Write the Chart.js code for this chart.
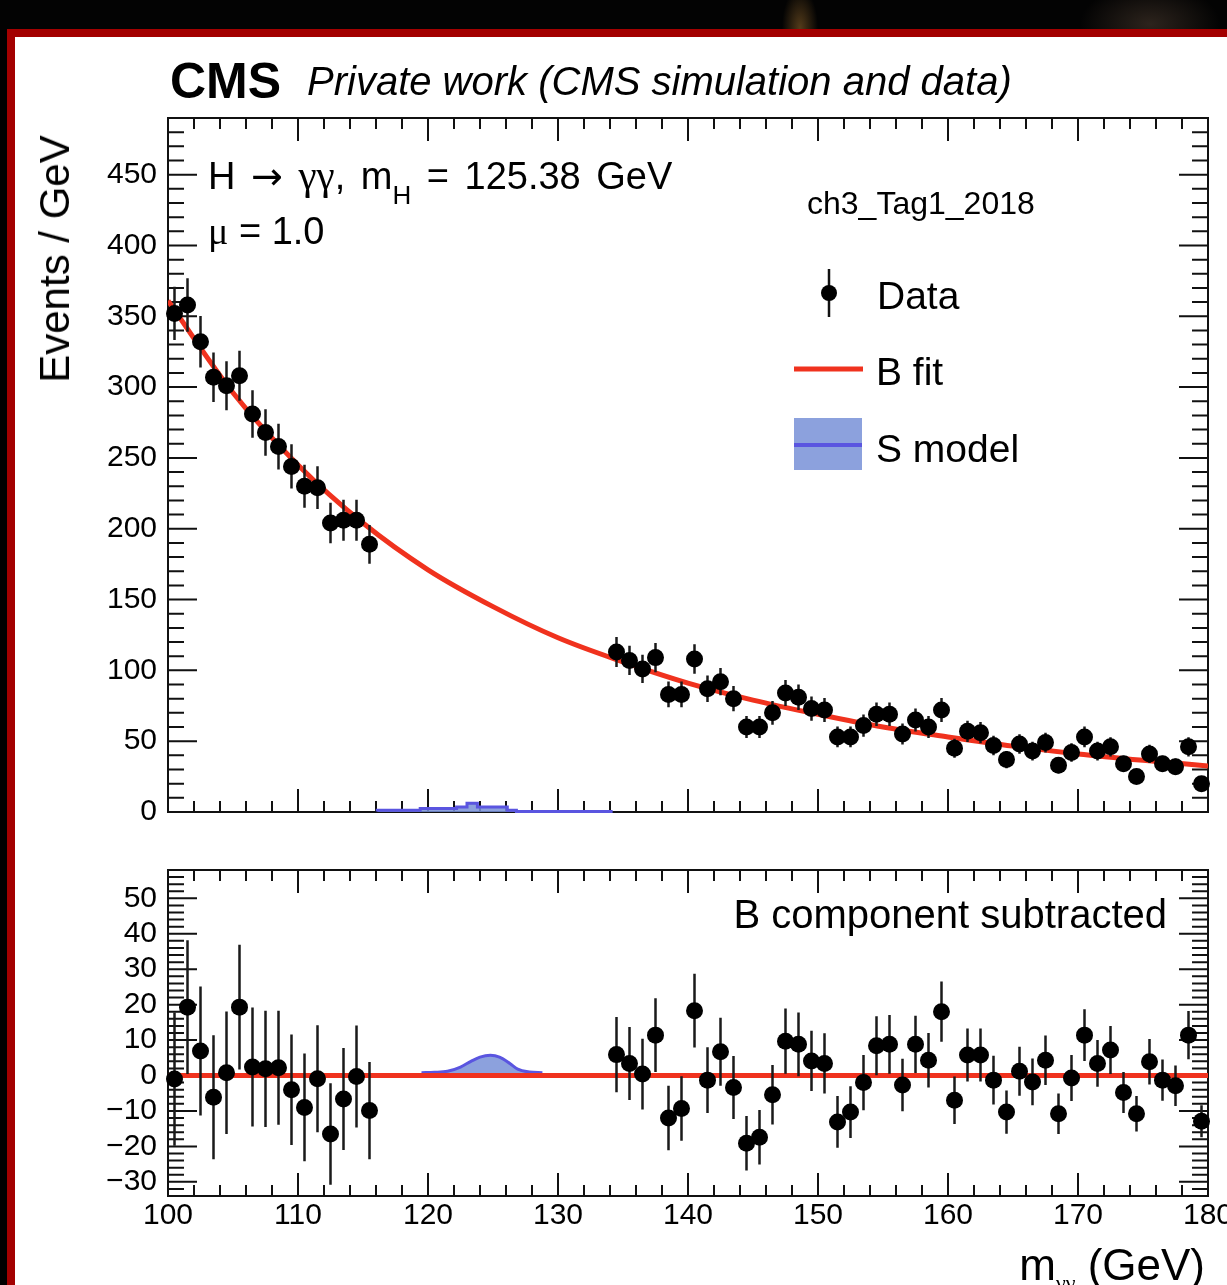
<!DOCTYPE html>
<html>
<head>
<meta charset="utf-8">
<script src="https://cdn.jsdelivr.net/npm/chart.js@4.4.1/dist/chart.umd.min.js"></script>
<style>
  html, body { margin: 0; padding: 0; width: 1227px; height: 1285px; overflow: hidden; background: #000;
    font-family: "Liberation Sans", Arial, sans-serif; }
  #strip { position: absolute; left: 0; top: 0; width: 1227px; height: 30px;
    background: radial-gradient(ellipse 18px 40px at 800px 28px, rgba(150,105,45,0.55), rgba(0,0,0,0) 100%),
                radial-gradient(ellipse 70px 40px at 1150px 24px, rgba(95,75,60,0.45), rgba(0,0,0,0) 100%), #030303; }
  #sheet { position: absolute; left: 7px; top: 29px; width: 1300px; height: 1300px; background: #fff;
    border-top: 8px solid #a30000; border-left: 8px solid #a30000; }
  canvas { position: absolute; left: 0; top: 0; }
  .t { position: absolute; white-space: nowrap; color: #000; line-height: 1; }
  .sub { position: relative; }
  .g { font-family: "Liberation Serif", "DejaVu Serif", serif; }
  .ar { font-family: "DejaVu Sans", sans-serif; }
</style>
</head>
<body>
<div id="strip"></div>
<div id="sheet"></div>
<canvas id="upper" width="1227" height="1285"></canvas>
<canvas id="lower" width="1227" height="1285"></canvas>

<div class="t" style="left:170px; top:56px; font-size:50px; font-weight:bold;">CMS</div>
<div class="t" style="left:307px; top:61px; font-size:40px; font-style:italic;">Private work (CMS simulation and data)</div>
<div class="t" style="left:208px; top:155px; font-size:38px; word-spacing:5px;">H <span class="ar">&#8594;</span> <span class="g" style="font-size:41px;">&#947;&#947;</span>, m<span class="sub" style="font-size:26px; top:15px;">H</span> = 125.38 GeV</div>
<div class="t" style="left:208px; top:212px; font-size:38px;"><span class="g">&#956;</span> = 1.0</div>
<div class="t" style="left:807px; top:187px; font-size:32px;">ch3_Tag1_2018</div>
<div class="t" style="left:877px; top:276px; font-size:39px;">Data</div>
<div class="t" style="left:876px; top:352px; font-size:39px;">B fit</div>
<div class="t" style="left:876px; top:429px; font-size:39px;">S model</div>
<div class="t" style="right:60px; top:894px; font-size:40px;">B component subtracted</div>
<div class="t" style="right:22px; top:1243px; font-size:44px;">m<span class="sub g" style="font-size:22px; top:10px;">&#947;&#947;</span> (GeV)</div>
<div class="t" style="left:55px; top:259px; font-size:42px; transform:translate(-50%,-50%) rotate(-90deg);">Events / GeV</div>

<script>
// ---- data (1 GeV bins, 116-134 blinded) ----
const MASS_LO = [100.5, 101.5, 102.5, 103.5, 104.5, 105.5, 106.5, 107.5, 108.5, 109.5, 110.5, 111.5, 112.5, 113.5, 114.5, 115.5];
const MASS_HI = [134.5, 135.5, 136.5, 137.5, 138.5, 139.5, 140.5, 141.5, 142.5, 143.5, 144.5, 145.5, 146.5, 147.5, 148.5, 149.5,
                 150.5, 151.5, 152.5, 153.5, 154.5, 155.5, 156.5, 157.5, 158.5, 159.5, 160.5, 161.5, 162.5, 163.5, 164.5, 165.5,
                 166.5, 167.5, 168.5, 169.5, 170.5, 171.5, 172.5, 173.5, 174.5, 175.5, 176.5, 177.5, 178.5, 179.5];
const EVENTS_LO = [352, 358, 332, 307, 301, 308, 281, 268, 258, 244, 230, 229, 204, 206, 206, 189];
const EVENTS_HI = [113, 107, 101, 109, 83, 83, 108, 87, 92, 80, 60, 60, 70, 84, 81, 73,
                   72, 53, 53, 61, 69, 69, 55, 65, 60, 72, 45, 57, 56, 47, 37, 48,
                   43, 49, 33, 42, 53, 43, 46, 34, 25, 41, 34, 32, 46, 20];
const ERR_LO = [18.8, 18.9, 18.2, 17.5, 17.3, 17.6, 16.8, 16.4, 16.1, 15.6, 15.2, 15.1, 14.3, 14.4, 14.4, 13.7];
const ERR_HI = [10.6, 10.3, 10.0, 10.4, 9.1, 9.1, 10.4, 9.3, 9.6, 8.9, 7.7, 7.7, 8.4, 9.2, 9.0, 8.5,
                8.5, 7.3, 7.3, 7.8, 8.3, 8.3, 7.4, 8.1, 7.7, 8.5, 6.7, 7.5, 7.5, 6.9, 6.1, 6.9,
                6.6, 7.0, 5.7, 6.5, 7.3, 6.6, 6.8, 5.8, 5.0, 6.4, 5.8, 5.7, 6.8, 4.5];
const RESID_LO = [-1.0, 19.3, 6.9, -6.1, 0.8, 19.3, 2.4, 1.9, 2.2, -4.0, -9.0, -0.9, -16.5, -6.6, -0.3, -9.9];
const RESID_HI = [5.9, 3.4, 0.4, 11.4, -12.0, -9.3, 18.3, -1.3, 6.7, -3.4, -19.1, -17.4, -5.4, 9.7, 8.8, 4.1,
                  3.4, -13.1, -10.3, -2.0, 8.4, 8.8, -2.7, 8.8, 4.3, 18.0, -7.0, 5.8, 5.8, -1.3, -10.3, 1.2,
                  -1.8, 4.3, -10.8, -0.7, 11.4, 3.4, 7.2, -4.8, -10.8, 3.9, -1.3, -2.9, 11.4, -12.9];

const FIT_MASS = [100, 105, 110, 115, 120, 125, 130, 135, 140, 145, 150, 155, 160, 165, 170, 175, 180];
const FIT_EVENTS = [361, 296, 245, 204, 171, 145, 123, 106, 91, 79, 69, 60, 53, 46.5, 41, 36.5, 32.5];

const SIG_UP_MASS = [116.1, 119.4, 122.2, 123.0, 123.8, 126.1, 126.8, 128.8, 134.2];
const SIG_UP_EVENTS = [0.3, 1.3, 2.5, 3.5, 6.2, 3.5, 1.3, 0.3, 0.3];
const SIG_LO_MASS = [119.5, 120.5, 121.5, 122.5, 123.3, 124.0, 124.8, 125.5, 126.3, 126.9, 127.8, 128.8];
const SIG_LO_EVENTS = [0.8, 0.9, 1.2, 2.4, 4.0, 5.2, 5.7, 5.2, 3.4, 1.8, 1.0, 0.8];

const X_TICKS = [100, 110, 120, 130, 140, 150, 160, 170, 180];
const Y_TICKS_UP = [0, 50, 100, 150, 200, 250, 300, 350, 400, 450];
const Y_TICKS_LO = [-30, -20, -10, 0, 10, 20, 30, 40, 50];

const RED = "#f0321e";
const BLUE = "#5a55e0";
const BLUE_FILL = "rgba(120,145,215,0.85)";
const FONT = "'Liberation Sans', Arial, sans-serif";

const xy = (xs, ys) => xs.map((x, i) => ({ x, y: ys[i] }));
const massAll = MASS_LO.concat(MASS_HI);
const errAll = ERR_LO.concat(ERR_HI);

/* ROOT style frame with inward ticks on all four sides */
const frameTicks = {
  id: "frameTicks",
  beforeDatasetsDraw(chart, args, o) {
    const { ctx, chartArea: a, scales: { x, y } } = chart;
    ctx.save();
    ctx.strokeStyle = "#111";
    ctx.lineWidth = 2;
    ctx.beginPath();
    for (let v = x.min; v <= x.max + 1e-6; v += o.xMinor) {
      const px = x.getPixelForValue(v);
      const len = Math.abs(v % o.xMajor) < 1e-6 ? o.xMajLen : o.xMinLen;
      ctx.moveTo(px, a.bottom); ctx.lineTo(px, a.bottom - len);
      ctx.moveTo(px, a.top); ctx.lineTo(px, a.top + len);
    }
    for (let v = Math.ceil(y.min / o.yMinor) * o.yMinor; v <= y.max + 1e-6; v += o.yMinor) {
      const py = y.getPixelForValue(v);
      const len = Math.abs(v % o.yMajor) < 1e-6 ? o.yMajLen : o.yMinLen;
      ctx.moveTo(a.left, py); ctx.lineTo(a.left + len, py);
      ctx.moveTo(a.right, py); ctx.lineTo(a.right - len, py);
    }
    ctx.stroke();
    ctx.strokeRect(a.left, a.top, a.width, a.height);
    ctx.restore();
  },
};

/* vertical error bars for dataset 0 */
const errorBars = {
  id: "errorBars",
  beforeDatasetDraw(chart, args, o) {
    if (args.index !== 0) return;
    const { ctx, scales: { x, y } } = chart;
    ctx.save();
    ctx.strokeStyle = "#1a1a1a";
    ctx.lineWidth = 2.5;
    ctx.beginPath();
    chart.data.datasets[0].data.forEach((p, i) => {
      const px = x.getPixelForValue(p.x);
      ctx.moveTo(px, y.getPixelForValue(p.y - o.errors[i]));
      ctx.lineTo(px, y.getPixelForValue(p.y + o.errors[i]));
    });
    ctx.stroke();
    ctx.restore();
  },
};

/* legend symbols of the upper pad */
const legendMarks = {
  id: "legendMarks",
  afterDraw(chart) {
    const ctx = chart.ctx;
    ctx.save();
    ctx.strokeStyle = "#111"; ctx.lineWidth = 2.5;
    ctx.beginPath(); ctx.moveTo(829, 269); ctx.lineTo(829, 317); ctx.stroke();
    ctx.fillStyle = "#000";
    ctx.beginPath(); ctx.arc(829, 293, 8, 0, Math.PI * 2); ctx.fill();
    ctx.strokeStyle = RED; ctx.lineWidth = 5;
    ctx.beginPath(); ctx.moveTo(794, 369); ctx.lineTo(863, 369); ctx.stroke();
    ctx.fillStyle = BLUE_FILL; ctx.fillRect(794, 418, 68, 52);
    ctx.strokeStyle = BLUE; ctx.lineWidth = 4;
    ctx.beginPath(); ctx.moveTo(794, 445); ctx.lineTo(862, 445); ctx.stroke();
    ctx.restore();
  },
};

const fixScale = (w, h) => (s) => {
  if (w !== null) s.width = w;
  if (h !== null) s.height = h;
  s.paddingLeft = 0; s.paddingRight = 0; s.paddingTop = 0; s.paddingBottom = 0;
};
const minus = (v) => (v < 0 ? "\u2212" + Math.abs(v) : String(v));
const tickFont = { family: FONT, size: 30 };

function pointsSet(ys) {
  return {
    label: "Data", data: xy(massAll, ys), order: 0, showLine: false,
    pointRadius: 8.5, pointHoverRadius: 8.5, backgroundColor: "#000", borderWidth: 0, clip: false,
  };
}

/* ---- upper pad ---- */
new Chart(document.getElementById("upper"), {
  type: "scatter",
  data: {
    datasets: [
      pointsSet(EVENTS_LO.concat(EVENTS_HI)),
      { label: "B fit", type: "line", data: xy(FIT_MASS, FIT_EVENTS), order: 1, borderColor: RED, borderWidth: 5,
        pointRadius: 0, cubicInterpolationMode: "monotone", fill: false },
      { label: "S model", type: "line", data: xy(SIG_UP_MASS, SIG_UP_EVENTS), order: 2, stepped: "after",
        borderColor: BLUE, borderWidth: 3, backgroundColor: BLUE_FILL, fill: "origin", pointRadius: 0, clip: false },
    ],
  },
  options: {
    responsive: false, animation: false, devicePixelRatio: 1,
    layout: { padding: { left: 0, right: 19, top: 118, bottom: 1285 - 812 } },
    plugins: {
      legend: { display: false }, tooltip: { enabled: false },
      frameTicks: { xMinor: 2, xMajor: 10, xMajLen: 23, xMinLen: 11, yMinor: 10, yMajor: 50, yMajLen: 29, yMinLen: 16 },
      errorBars: { errors: errAll },
    },
    scales: {
      x: { type: "linear", min: 100, max: 180, ticks: { display: false },
           grid: { display: false, drawTicks: false }, border: { display: false }, afterFit: fixScale(null, 0) },
      y: { type: "linear", min: 0, max: 490,
           ticks: { font: tickFont, color: "#000", padding: 11 },
           afterBuildTicks: (s) => { s.ticks = Y_TICKS_UP.map((v) => ({ value: v })); },
           grid: { display: false, drawTicks: false }, border: { display: false }, afterFit: fixScale(168, null) },
    },
  },
  plugins: [frameTicks, errorBars, legendMarks],
});

/* ---- lower pad: background subtracted ---- */
new Chart(document.getElementById("lower"), {
  type: "scatter",
  data: {
    datasets: [
      pointsSet(RESID_LO.concat(RESID_HI)),
      { label: "B fit", type: "line", data: xy([100, 180], [0, 0]), order: 1, borderColor: RED, borderWidth: 5,
        pointRadius: 0, fill: false },
      { label: "S model", type: "line", data: xy(SIG_LO_MASS, SIG_LO_EVENTS), order: 2, borderColor: BLUE,
        borderWidth: 3, backgroundColor: BLUE_FILL, fill: "origin", pointRadius: 0, cubicInterpolationMode: "monotone" },
    ],
  },
  options: {
    responsive: false, animation: false, devicePixelRatio: 1,
    layout: { padding: { left: 0, right: 19, top: 870, bottom: 0 } },
    plugins: {
      legend: { display: false }, tooltip: { enabled: false },
      frameTicks: { xMinor: 2, xMajor: 10, xMajLen: 23, xMinLen: 11, yMinor: 2, yMajor: 10, yMajLen: 29, yMinLen: 16 },
      errorBars: { errors: errAll },
    },
    scales: {
      x: { type: "linear", min: 100, max: 180,
           ticks: { font: tickFont, color: "#000", padding: 2, maxRotation: 0 },
           afterBuildTicks: (s) => { s.ticks = X_TICKS.map((v) => ({ value: v })); },
           grid: { display: false, drawTicks: false }, border: { display: false }, afterFit: fixScale(null, 89) },
      y: { type: "linear", min: -34, max: 58,
           ticks: { font: tickFont, color: "#000", padding: 11, callback: minus },
           afterBuildTicks: (s) => { s.ticks = Y_TICKS_LO.map((v) => ({ value: v })); },
           grid: { display: false, drawTicks: false }, border: { display: false }, afterFit: fixScale(168, null) },
    },
  },
  plugins: [frameTicks, errorBars],
});
</script>
</body>
</html>
